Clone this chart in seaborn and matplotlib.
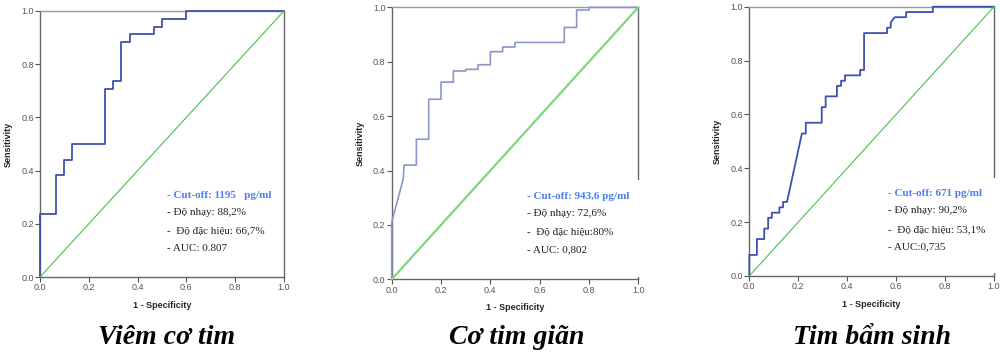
import matplotlib
matplotlib.use("Agg")
import matplotlib.pyplot as plt
import seaborn as sns
import pandas as pd
from matplotlib.patches import Rectangle

# ---------------- data ----------------
titles = ["Viêm cơ tim", "Cơ tim giãn", "Tim bẩm sinh"]

fpr1 = [0, 0, 0.067, 0.067, 0.1, 0.1, 0.133, 0.133, 0.267, 0.267, 0.3, 0.3,
        0.333, 0.333, 0.367, 0.367, 0.467, 0.467, 0.5, 0.5, 0.6, 0.6, 1.0]
tpr1 = [0, 0.235, 0.235, 0.382, 0.382, 0.441, 0.441, 0.5, 0.5, 0.706, 0.706, 0.735,
        0.735, 0.882, 0.882, 0.912, 0.912, 0.941, 0.941, 0.971, 0.971, 1.0, 1.0]

fpr2 = [0, 0, 0.047, 0.05, 0.1, 0.1, 0.15, 0.15, 0.2, 0.2, 0.25, 0.25, 0.3, 0.3,
        0.35, 0.35, 0.4, 0.4, 0.45, 0.45, 0.5, 0.5, 0.7, 0.7, 0.75, 0.75, 0.8, 0.8, 1.0]
tpr2 = [0, 0.21, 0.37, 0.42, 0.42, 0.515, 0.515, 0.662, 0.662, 0.725, 0.725, 0.766,
        0.766, 0.772, 0.772, 0.789, 0.789, 0.837, 0.837, 0.854, 0.854, 0.871, 0.871,
        0.926, 0.926, 0.99, 0.99, 1.0, 1.0]

fpr3 = [0, 0, 0.031, 0.031, 0.061, 0.061, 0.077, 0.077, 0.092, 0.092, 0.123, 0.123,
        0.138, 0.138, 0.154, 0.215, 0.231, 0.231, 0.296, 0.296, 0.312, 0.312, 0.358,
        0.358, 0.375, 0.375, 0.391, 0.391, 0.453, 0.453, 0.469, 0.469, 0.563, 0.563,
        0.578, 0.578, 0.594, 0.641, 0.641, 0.75, 0.75, 1.0]
tpr3 = [0, 0.078, 0.078, 0.137, 0.137, 0.176, 0.176, 0.216, 0.216, 0.235, 0.235, 0.255,
        0.255, 0.275, 0.275, 0.529, 0.529, 0.569, 0.569, 0.627, 0.627, 0.667, 0.667,
        0.706, 0.706, 0.725, 0.725, 0.745, 0.745, 0.765, 0.765, 0.902, 0.902, 0.922,
        0.922, 0.941, 0.961, 0.961, 0.980, 0.980, 1.0, 1.0]

cutoffs = ["- Cut-off: 1195   pg/ml", "- Cut-off: 943,6 pg/ml", "- Cut-off: 671 pg/ml"]
sens_txt = ["- Độ nhạy: 88,2%", "- Độ nhạy: 72,6%", "- Độ nhạy: 90,2%"]
spec_txt = ["-  Độ đặc hiệu: 66,7%", "-  Độ đặc hiệu:80%", "-  Độ đặc hiệu: 53,1%"]
auc_txt = ["- AUC: 0.807", "- AUC: 0,802", "- AUC:0,735"]

ticks = [0.0, 0.2, 0.4, 0.6, 0.8, 1.0]
tick_labels = ["0.0", "0.2", "0.4", "0.6", "0.8", "1.0"]
diag = [0.0, 1.0]

# ---------------- styling ----------------
sns.set_theme(style="white")
plt.rcParams['font.family'] = ['Liberation Sans', 'DejaVu Sans']

fig = plt.figure(figsize=(10, 3.52), dpi=100)

positions = [
    [0.040, 0.213, 0.244, 0.756],
    [0.3917, 0.2065, 0.2466, 0.7727],
    [0.7493, 0.216, 0.2447, 0.765],
]
curve_colors = ["#3d52b0", "#8a96cc", "#3d52b0"]
diag_colors = ["#4cbf4c", "#7fd67f", "#4cbf4c"]
curve_lw = [1.3, 1.2, 1.3]
diag_lw = [0.8, 1.6, 0.8]
text_x = [0.522, 0.55, 0.567]
cover = [False, True, True]
title_x = [0.167, 0.517, 0.872]

series = [(fpr1, tpr1), (fpr2, tpr2), (fpr3, tpr3)]

for i, (fx, ty) in enumerate(series):
    ax = fig.add_axes(positions[i])
    df = pd.DataFrame({"fpr": fx, "tpr": ty})
    sns.lineplot(data=df, x="fpr", y="tpr", sort=False, estimator=None,
                 color=curve_colors[i], lw=curve_lw[i], ax=ax)
    sns.lineplot(x=diag, y=diag, color=diag_colors[i], lw=diag_lw[i], ax=ax)
    for ln in ax.get_lines():
        ln.set_clip_on(False)
        ln.set_zorder(2.6)
    ax.set_xlim(0, 1)
    ax.set_ylim(0, 1)
    ax.set_xticks(ticks)
    ax.set_yticks(ticks)
    ax.set_xticklabels(tick_labels)
    ax.set_yticklabels(tick_labels)
    ax.tick_params(axis="both", which="both", direction="out", length=3.5, width=0.8,
                   color="#555555", labelsize=6.5, labelcolor="#555555", pad=1,
                   bottom=True, left=True)
    for s in ["left", "right", "bottom"]:
        ax.spines[s].set_color("#666666")
        ax.spines[s].set_linewidth(1.0)
    ax.spines["top"].set_color("#9a9a9a")
    ax.spines["top"].set_linewidth(1.0)
    ax.set_xlabel("1 - Specificity", fontsize=6.5, fontweight="bold", labelpad=6)
    ax.set_ylabel("Sensitivity", fontsize=6.5, fontweight="bold", labelpad=6)

    if cover[i]:
        ax.add_patch(Rectangle((0.6, 0.01), 0.45, 0.355, transform=ax.transAxes,
                               facecolor="white", edgecolor="none", clip_on=False,
                               zorder=3))

    tfam = ['Liberation Serif', 'DejaVu Serif']
    ax.text(text_x[i], 0.305, cutoffs[i], transform=ax.transAxes, fontsize=8,
            family=tfam, fontweight="bold", color="#4a7ef0", va="center", zorder=4)
    ax.text(text_x[i], 0.243, sens_txt[i], transform=ax.transAxes, fontsize=8,
            family=tfam, color="#222222", va="center", zorder=4)
    ax.text(text_x[i], 0.173, spec_txt[i], transform=ax.transAxes, fontsize=8,
            family=tfam, color="#222222", va="center", zorder=4)
    ax.text(text_x[i], 0.108, auc_txt[i], transform=ax.transAxes, fontsize=8,
            family=tfam, color="#222222", va="center", zorder=4)

    fig.text(title_x[i], 1 - 338 / 352, titles[i], ha="center", va="center",
             fontsize=20, fontweight="bold", fontstyle="italic",
             family=['Liberation Serif', 'DejaVu Serif'], color="black")

fig.savefig("out.png", dpi=100, facecolor="white")
